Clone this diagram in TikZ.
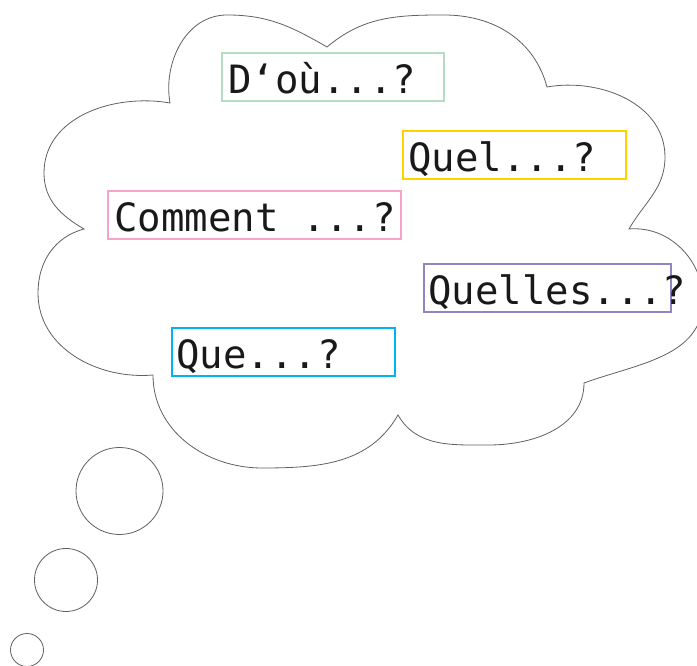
\documentclass[tikz,border=0pt]{standalone}
\usepackage{fontspec}
\setmonofont{DejaVu Sans Mono}
\definecolor{cgreen}{HTML}{B3DEC3}
\definecolor{cyellow}{HTML}{FFD200}
\definecolor{cpink}{HTML}{F5A3C7}
\definecolor{cpurple}{HTML}{8E86C4}
\definecolor{cblue}{HTML}{00B4F0}
\definecolor{outline}{HTML}{606060}
\tikzset{
  qbox/.style={draw=#1, line width=2.2pt, rectangle, inner sep=0pt},
  qtext/.style={anchor=base west, inner sep=0pt, font=\ttfamily\fontsize{39}{39}\selectfont, text=black!90},
  bubble/.style={draw=outline, line width=0.8pt}
}
\begin{document}
\begin{tikzpicture}[x=1pt,y=1pt]
\useasboundingbox (0,0) rectangle (697,666);
\begin{scope}
\clip (0,0) rectangle (697,666);
% cloud
\coordinate (A) at (170,563);
\coordinate (T1) at (227,651);
\coordinate (B) at (327,619);
\coordinate (T2) at (444,651);
\coordinate (C) at (547,579);
\coordinate (R1) at (665,509);
\coordinate (D) at (629,437);
\coordinate (R2) at (703,366);
\coordinate (E) at (584,283);
\coordinate (B1) at (489,221);
\coordinate (F) at (398,251);
\coordinate (B2) at (262,198);
\coordinate (G) at (153,291);
\coordinate (L1) at (38,373);
\coordinate (H) at (84,437);
\coordinate (L2) at (44,493);
\draw[bubble] (A) to[out=100,in=180] (T1) to[out=0,in=150] (B)
  to[out=40,in=180] (T2) to[out=0,in=105] (C)
  to[out=10,in=90] (R1) to[out=-90,in=60] (D)
  to[out=5,in=90] (R2) to[out=-90,in=20] (E)
  to[out=-90,in=0] (B1) to[out=180,in=-60] (F)
  to[out=-120,in=0] (B2) to[out=180,in=-90] (G)
  to[out=185,in=-90] (L1) to[out=90,in=195] (H)
  to[out=150,in=-90] (L2) to[out=90,in=170] (A) -- cycle;
% small bubbles
\node[bubble, circle, minimum size=87pt, inner sep=0pt] (c1) at (119.5,175) {};
\node[bubble, circle, minimum size=63pt, inner sep=0pt] (c2) at (66,86) {};
\node[bubble, circle, minimum size=33pt, inner sep=0pt] (c3) at (27,16) {};
\end{scope}
% boxes
\node[qbox=cgreen, minimum width=222pt, minimum height=48pt] (b1) at (333,589) {};
\node[qbox=cyellow, minimum width=223pt, minimum height=48pt] (b2) at (514.5,511) {};
\node[qbox=cpink, minimum width=293pt, minimum height=48pt] (b3) at (254.5,451) {};
\node[qbox=cpurple, minimum width=247pt, minimum height=48pt] (b4) at (547.5,378) {};
\node[qbox=cblue, minimum width=223pt, minimum height=48pt] (b5) at (283.5,314) {};
% texts
\node[qtext] (t1) at (228,572) {D‘où...?};
\node[qtext] (t2) at (408,494) {Quel...?};
\node[qtext] (t3) at (114,434) {Comment ...?};
\node[qtext] (t4) at (428,361) {Quelles...?};
\node[qtext] (t5) at (176,297) {Que...?};
\end{tikzpicture}
\end{document}
